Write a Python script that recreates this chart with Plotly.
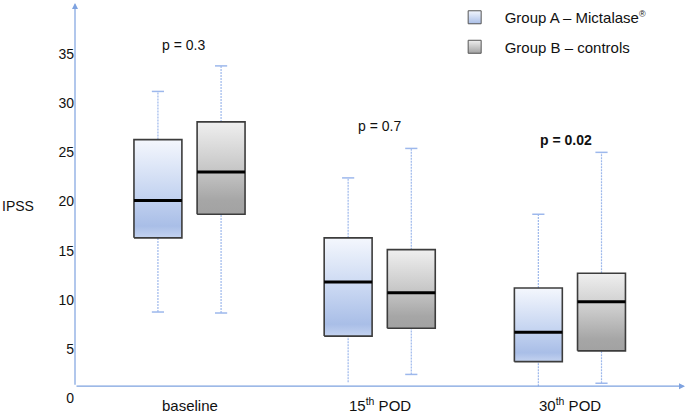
import plotly.graph_objects as go

# ---- data ----
categories = ["baseline", "15<sup>th</sup> POD", "30<sup>th</sup> POD"]
groups = ["Group A – Mictalase<sup><span style='font-size:9px'>®</span></sup>", "Group B – controls"]

A_low = [8.75, 1.6, 1.2]
A_q1 = [16.3, 6.3, 3.7]
A_med = [20.1, 11.8, 6.7]
A_q3 = [26.3, 16.3, 11.2]
A_high = [31.2, 22.4, 18.7]

B_low = [8.65, 2.4, 1.5]
B_q1 = [18.7, 7.1, 4.8]
B_med = [23.0, 10.7, 9.8]
B_q3 = [28.1, 15.1, 12.7]
B_high = [33.8, 25.4, 25.0]

p_texts = ["p = 0.3", "p = 0.7", "<b>p = 0.02</b>"]
y_ticks = [0, 5, 10, 15, 20, 25, 30, 35]

# ---- style / layout constants ----
FONT = "Liberation Sans, Arial, Helvetica, sans-serif"
AXIS_COLOR = "#7ea2e0"
WHISKER_COLOR = "#9db8ec"
OUTLINE = "#3c3c3c"
OFFSETS = [-0.166, 0.166]
HALF_W = 0.126
CAP_W = 0.032
X_RANGE = [-0.602, 2.605]
Y_RANGE = [0, 40.2]
AXIS_Y = 1.2
P_Y = [35.9, 27.7, 26.3]
P_DX = [-0.03, 0.0, -0.02]
caps_low = [[True, False, False], [True, True, True]]

scales = [
    [[0, "#c4d3f0"], [0.12, "#a9bee7"], [0.45, "#c6d5f1"], [1, "#f4f7fd"]],
    [[0, "#a2a2a2"], [0.15, "#a6a6a6"], [0.5, "#c8c8c8"], [1, "#efefef"]],
]
legend_colors = [("#f2f6fd", "#a9bee7"), ("#efefef", "#a2a2a2")]

stats = [
    (A_low, A_q1, A_med, A_q3, A_high),
    (B_low, B_q1, B_med, B_q3, B_high),
]

fig = go.Figure()

# whiskers (dotted) and caps
for g, (lo, q1, med, q3, hi) in enumerate(stats):
    wx, wy, cx, cy = [], [], [], []
    for i in range(len(categories)):
        xc = i + OFFSETS[g]
        wx += [xc, xc, None, xc, xc, None]
        wy += [q3[i], hi[i], None, lo[i], q1[i], None]
        cx += [xc - CAP_W, xc + CAP_W, None]
        cy += [hi[i], hi[i], None]
        if caps_low[g][i]:
            cx += [xc - CAP_W, xc + CAP_W, None]
            cy += [lo[i], lo[i], None]
    fig.add_trace(go.Scatter(x=wx, y=wy, mode="lines", showlegend=False, hoverinfo="skip",
                             line=dict(color=WHISKER_COLOR, width=1.2, dash="2px,1px")))
    fig.add_trace(go.Scatter(x=cx, y=cy, mode="lines", showlegend=False, hoverinfo="skip",
                             line=dict(color=WHISKER_COLOR, width=1.5)))

# boxes with vertical gradient
for g, (lo, q1, med, q3, hi) in enumerate(stats):
    for i in range(len(categories)):
        xc = i + OFFSETS[g]
        fig.add_trace(go.Scatter(
            x=[xc - HALF_W, xc + HALF_W, xc + HALF_W, xc - HALF_W, xc - HALF_W],
            y=[q1[i], q1[i], q3[i], q3[i], q1[i]],
            mode="lines", fill="toself", showlegend=False, hoverinfo="skip",
            line=dict(color=OUTLINE, width=1.6),
            fillgradient=dict(type="vertical", colorscale=scales[g]),
        ))
    mx, my = [], []
    for i in range(len(categories)):
        xc = i + OFFSETS[g]
        mx += [xc - HALF_W, xc + HALF_W, None]
        my += [med[i], med[i], None]
    fig.add_trace(go.Scatter(x=mx, y=my, mode="lines", showlegend=False, hoverinfo="skip",
                             line=dict(color="#000000", width=3)))

# legend entries
for g in range(2):
    fig.add_trace(go.Scatter(
        x=[None], y=[None], mode="markers", name=groups[g], legendgroup=str(g),
        marker=dict(symbol="square", size=13, color=legend_colors[g][0],
                    gradient=dict(type="vertical", color=legend_colors[g][1]),
                    line=dict(color="#555555", width=1)),
    ))

annotations = []
for i, t in enumerate(p_texts):
    annotations.append(dict(x=i + P_DX[i], y=P_Y[i], xref="x", yref="y", text=t,
                            showarrow=False, font=dict(size=14, color="#111111", family=FONT)))
for i, t in enumerate(categories):
    annotations.append(dict(x=i, y=0, xref="x", yref="paper", text=t, showarrow=False,
                            yanchor="top", yshift=4 if i else 2, borderpad=0,
                            font=dict(size=15, color="#111111", family=FONT)))
annotations.append(dict(x=0, y=19.5, xref="paper", yref="y", text="IPSS", showarrow=False,
                        xanchor="left", xshift=-75, font=dict(size=14, color="#111111", family=FONT)))
# axis arrows
annotations.append(dict(x=X_RANGE[0], y=Y_RANGE[1], ax=X_RANGE[0], ay=AXIS_Y, xref="x", yref="y",
                        axref="x", ayref="y", text="", showarrow=True, arrowhead=2, arrowsize=1,
                        arrowwidth=1.2, arrowcolor=AXIS_COLOR))
annotations.append(dict(x=X_RANGE[1], y=AXIS_Y, ax=X_RANGE[0], ay=AXIS_Y, xref="x", yref="y",
                        axref="x", ayref="y", text="", showarrow=True, arrowhead=2, arrowsize=1,
                        arrowwidth=1.2, arrowcolor=AXIS_COLOR))

fig.update_layout(
    width=685, height=413,
    margin=dict(l=75, r=0, t=3, b=15, autoexpand=False),
    paper_bgcolor="white", plot_bgcolor="white",
    font=dict(family=FONT, size=14, color="#111111"),
    showlegend=True,
    legend=dict(x=0.606, y=1.005, xanchor="left", yanchor="top", bgcolor="rgba(0,0,0,0)",
                tracegroupgap=7, traceorder="grouped", itemwidth=50,
                font=dict(size=15, family=FONT, color="#111111")),
    annotations=annotations,
    xaxis=dict(range=X_RANGE, showgrid=False, zeroline=False, showline=False, automargin=False,
               showticklabels=False, ticks=""),
    yaxis=dict(range=Y_RANGE, showgrid=False, zeroline=False, showline=False, automargin=False,
               tickvals=y_ticks, ticks="", tickfont=dict(size=14, family=FONT, color="#111111")),
)

fig.write_html("out.html", config={"displayModeBar": False},
               post_script="document.body.style.margin='0';")
